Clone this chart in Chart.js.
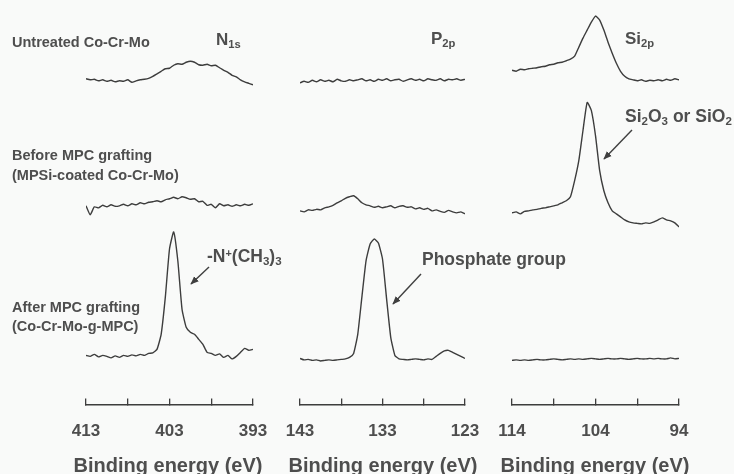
<!DOCTYPE html>
<html>
<head>
<meta charset="utf-8">
<script src="https://cdn.jsdelivr.net/npm/chart.js@4.4.1/dist/chart.umd.min.js"></script>
<style>
  html, body { margin:0; padding:0; background:#f9faf9; }
  #wrap { position:relative; width:734px; height:474px; overflow:hidden;
          font-family:'Liberation Sans', Arial, sans-serif; font-weight:bold; color:#4e4e4e; }
  #wrap canvas { position:absolute; top:0; }
  .lbl { position:absolute; white-space:nowrap; line-height:1; }
  .row { font-size:14.5px; }
  .el { font-size:17px; }
  .note { font-size:17.5px; }
  .xt { font-size:20px; width:220px; text-align:center; top:455px; }
  .lbl sub { font-size:0.66em; vertical-align:-0.3em; line-height:0; }
  .lbl sup { font-size:0.62em; vertical-align:0.5em; line-height:0; }
  #wrap svg { position:absolute; left:0; top:0; }
</style>
</head>
<body>
<div id="wrap">
  <canvas id="cN" width="257" height="474" style="left:41px"></canvas>
  <canvas id="cP" width="255" height="474" style="left:255px"></canvas>
  <canvas id="cSi" width="257" height="474" style="left:467px"></canvas>

  <div class="lbl row" style="left:12px;top:35px">Untreated Co-Cr-Mo</div>
  <div class="lbl row" style="left:12px;top:148px">Before MPC grafting</div>
  <div class="lbl row" style="left:12px;top:168px">(MPSi-coated Co-Cr-Mo)</div>
  <div class="lbl row" style="left:12px;top:300px">After MPC grafting</div>
  <div class="lbl row" style="left:12px;top:319px">(Co-Cr-Mo-g-MPC)</div>

  <div class="lbl el" style="left:216px;top:31px">N<sub>1s</sub></div>
  <div class="lbl el" style="left:431px;top:30px">P<sub>2p</sub></div>
  <div class="lbl el" style="left:625px;top:30px">Si<sub>2p</sub></div>

  <div class="lbl note" style="left:207px;top:248px">-N<sup>+</sup>(CH<sub>3</sub>)<sub>3</sub></div>
  <div class="lbl note" style="left:422px;top:251px">Phosphate group</div>
  <div class="lbl note" style="left:625px;top:108px">Si<sub>2</sub>O<sub>3</sub> or SiO<sub>2</sub></div>

  <div class="lbl xt" id="tN"  style="left:58px"></div>
  <div class="lbl xt" id="tP"  style="left:273px"></div>
  <div class="lbl xt" id="tSi" style="left:485px"></div>

  <svg width="734" height="474">
    <defs>
      <marker id="ah" viewBox="0 0 10 10" refX="9" refY="5" markerWidth="6" markerHeight="6" orient="auto">
        <path d="M0,1 L10,5 L0,9 z" fill="#3f3f3f"/>
      </marker>
    </defs>
    <line x1="209" y1="267" x2="191" y2="284" stroke="#3f3f3f" stroke-width="1.4" marker-end="url(#ah)"/>
    <line x1="421" y1="274" x2="393" y2="304" stroke="#3f3f3f" stroke-width="1.4" marker-end="url(#ah)"/>
    <line x1="632" y1="130" x2="604" y2="159" stroke="#3f3f3f" stroke-width="1.4" marker-end="url(#ah)"/>
  </svg>
</div>

<script>
// XPS 内殻スペクトル (N1s / P2p / Si2p)

// 結合エネルギー (eV)
const nEnergy  = [413,412.5,412,411.5,411,410.5,410,409.5,409,408.5,408,407.5,407,406.5,406,405.5,405,404.5,404,403.5,403,402.5,402,401.5,401,400.5,400,399.5,399,398.5,398,397.5,397,396.5,396,395.5,395,394.5,394,393.5,393];
const pEnergy  = [143,142.5,142,141.5,141,140.5,140,139.5,139,138.5,138,137.5,137,136.5,136,135.5,135,134.5,134,133.5,133,132.5,132,131.5,131,130.5,130,129.5,129,128.5,128,127.5,127,126.5,126,125.5,125,124.5,124,123.5,123];
const siEnergy = [114,113.5,113,112.5,112,111.5,111,110.5,110,109.5,109,108.5,108,107.5,107,106.5,106,105.5,105,104.5,104,103.5,103,102.5,102,101.5,101,100.5,100,99.5,99,98.5,98,97.5,97,96.5,96,95.5,95,94.5,94];

// 目盛ラベル
const nTicks  = [413, 403, 393];
const pTicks  = [143, 133, 123];
const siTicks = [114, 104, 94];

const axisTitle = 'Binding energy (eV)';

// 強度 (任意単位): untreated / before MPC / after MPC
const nUntreated = [1.5,0.5,1,-0.5,0.5,-1,0,-1.5,-0.5,-1,0.5,-2,-0.5,0.5,1,2,4,6.5,9,11.5,12,15,16.5,16,18,19,18,15.5,15,16,14.5,15,12.5,10,8,5,3.5,0.5,-1.5,-3,-4.5];
const nBefore    = [5,-4,4,3,5.5,4,6,4.5,5,6.5,5,7,6,8,7,8.5,9,10,9,11,12,13.5,12,14,13,11.5,12,9,9.5,5.5,6.5,3,7,5,6,4.5,6,5,6.5,5.5,7];
const nAfter     = [4,3,5,2.5,4,3,1.5,3.5,2,4,3,4.5,3.5,5,4,6,6.5,10,25,62,110,127,98,50,32,27,25,20,15,7,6,4,5.5,2,4,0.5,3,7,11,9,10];

const pUntreated = [-2.5,-1,-2,0,-1.5,0.5,-1,0,-1.5,1,-0.5,-1,0.5,-0.5,0.5,1.5,-0.5,0.5,-1,1,0,1.5,-0.5,0.5,1,-1,0.5,1.5,0,1,-0.5,1.5,0.5,0,1.5,-0.5,1,0.5,1.5,0,1];
const pBefore    = [0,-1,1,0.5,1.5,1,3,4,5.5,8,10,12.5,14,15,12,8,6,5,3.5,4.5,3,4,5,3,4.5,5,3.5,4,2,3,1.5,2.5,0,1,-0.5,-1.5,0.5,-1,-2,-1,-3];
const pAfter     = [1,-0.5,0,-1,-0.5,-1.5,-1,-0.5,-1,-0.5,0,0.5,2,6,25,62,98,115,120,116,100,60,22,4,0.5,0,-0.5,0,0.5,0,-0.5,0.5,0,3,6,8.5,9,7,5,3,1];

const siUntreated = [10,9,11,10.5,11.5,12,12.5,13.5,14,15.5,16,17.5,18,19.5,21,24,33,42,50,58,64,60,50,38,27,17,9,4,1.5,0.5,-0.5,0.5,-1,0,-0.5,0.5,-0.5,1,0,1.5,0.5];
const siBefore    = [-2,-1,-3,-0.5,0,1,1.5,2.5,3,4,5,6,8,10,14,30,50,80,108,100,75,40,20,8,0,-3,-6,-9,-11,-12,-12.5,-13,-12,-12.5,-11,-9,-7,-9,-10,-12,-16];
const siAfter     = [-1,-0.5,-1,-0.5,-1,-0.5,0,-0.5,-0.5,0,0.5,0,-0.5,0,0.5,0,0.5,0,0.5,1,0.5,0,0.5,1,0.5,0.5,1,0.5,0,0.5,1,0.5,0.5,1,0.5,1,0.5,0.5,1.5,0.5,1];

// 各段のオフセット (上から untreated, before, after)
const rowLift = [323, 193, 45];

const INK = '#3d3d3d';
const TEXT = '#4e4e4e';
const FONT = "'Liberation Sans', Arial, sans-serif";

function renderPanel(id, titleId, energies, series, ticks) {
  const datasets = series.map((vals, r) => ({
    data: energies.map((e, i) => ({ x: e, y: vals[i] + rowLift[r] })),
    borderColor: INK,
    borderWidth: 1.4,
    pointRadius: 0,
    tension: 0.15,
    fill: false,
  }));

  new Chart(document.getElementById(id), {
    type: 'line',
    data: { datasets },
    options: {
      responsive: false,
      animation: false,
      events: [],
      layout: { padding: { left: 45, right: 45, top: 2, bottom: 9 } },
      plugins: { legend: { display: false }, tooltip: { enabled: false } },
      scales: {
        x: {
          type: 'linear',
          reverse: true,
          min: ticks[ticks.length - 1],
          max: ticks[0],
          grid: { display: true, drawOnChartArea: false, drawTicks: true, tickLength: -6, color: INK, lineWidth: 1.3 },
          border: { display: true, color: INK, width: 1.5 },
          ticks: {
            stepSize: 5,
            autoSkip: false,
            maxRotation: 0,
            padding: 23,
            color: TEXT,
            font: { family: FONT, size: 17, weight: 'bold', lineHeight: 1.2 },
            callback: v => ticks.includes(v) ? String(v) : '',
          },
        },
        y: { display: false, min: 0, max: 401 },
      },
    },
  });

  // 軸タイトル (HTML テキスト)
  document.getElementById(titleId).textContent = axisTitle;
}

renderPanel('cN',  'tN',  nEnergy,  [nUntreated, nBefore, nAfter],    nTicks);
renderPanel('cP',  'tP',  pEnergy,  [pUntreated, pBefore, pAfter],    pTicks);
renderPanel('cSi', 'tSi', siEnergy, [siUntreated, siBefore, siAfter], siTicks);
</script>
</body>
</html>
